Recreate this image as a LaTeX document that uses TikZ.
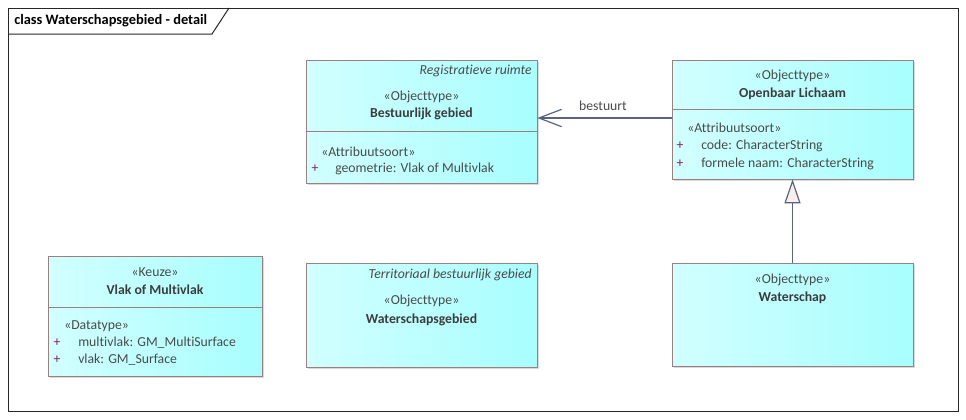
\documentclass[tikz,border=0pt]{standalone}
\usepackage{fontspec}
\setmainfont{Carlito}[Ligatures=NoCommon]
\usetikzlibrary{arrows.meta,positioning,fit,shadows}
\usepackage{xcolor}
\definecolor{clsfillL}{HTML}{D2FFFF}
\definecolor{clsfillR}{HTML}{A8FEFE}
\definecolor{clsline}{HTML}{9C8080}
\definecolor{txtdark}{HTML}{3C3C3C}
\definecolor{txtlight}{HTML}{4A4A4A}
\definecolor{conn}{HTML}{5A6482}
\definecolor{visred}{HTML}{8A2050}
\definecolor{genfill}{HTML}{F8EFEA}

\begin{document}
\begin{tikzpicture}[x=0.75pt,y=-0.75pt,>=Latex, every node/.style={font=\fontsize{10.3}{12}\selectfont,text=txtdark,inner sep=0pt}]
\tikzstyle{cls}=[draw=clsline,left color=clsfillL,right color=clsfillR,drop shadow={shadow xshift=1.8pt,shadow yshift=-1.8pt,opacity=0.3},inner sep=0pt]
\tikzstyle{stereo}=[text=txtlight]
\tikzstyle{clsname}=[font=\fontsize{10.3}{12}\selectfont\bfseries]
\tikzstyle{attr}=[anchor=west,text=txtlight]
\tikzstyle{vis}=[text=visred]
\tikzstyle{pkgtag}=[anchor=east,text=txtlight,font=\fontsize{10.3}{12}\selectfont\itshape]
\tikzstyle{divider}=[draw=clsline]
\tikzstyle{link}=[draw=conn,line width=0.9pt]
\useasboundingbox (0,0) rectangle (966,419);
% diagram frame
\draw[black!85,line width=0.75pt] (8,8) rectangle (958,411);
\draw[black!85,line width=0.75pt] (8,34) -- (212,34) -- (229,8);
\node[anchor=west,text=black,font=\fontsize{10.8}{12}\selectfont\bfseries] (title) at (14,21) {class Waterschapsgebied - detail};
% Bestuurlijk gebied
\node[cls,fit={(306,60) (537,183)}] (bg) {};
\draw[divider] (bg.west |- 0,131) -- (bg.east |- 0,131);
\node[pkgtag] (bgtag) at (532,71) {Registratieve ruimte};
\node[stereo] (bgst) at (421.5,97) {«Objecttype»};
\node[clsname] (bgname) at (421.5,114) {Bestuurlijk gebied};
\node[attr] (bgas) at (321,152) {«Attribuutsoort»};
\node[vis] (bgv1) at (315,169) {+};
\node[attr] (bga1) at (335,169) {geometrie: Vlak of Multivlak};
% Openbaar Lichaam
\node[cls,fit={(672,60) (913,179)}] (ol) {};
\draw[divider] (ol.west |- 0,109) -- (ol.east |- 0,109);
\node[stereo] (olst) at (792.5,76) {«Objecttype»};
\node[clsname] (olname) at (792.5,94) {Openbaar Lichaam};
\node[attr] (olas) at (687,128) {«Attribuutsoort»};
\node[vis] (olv1) at (680,146) {+};
\node[attr] (ola1) at (701,146) {code: CharacterString};
\node[vis] (olv2) at (680,164) {+};
\node[attr] (ola2) at (701,164) {formele naam: CharacterString};
% Vlak of Multivlak
\node[cls,fit={(48,256) (262,376)}] (vm) {};
\draw[divider] (vm.west |- 0,307) -- (vm.east |- 0,307);
\node[stereo] (vmst) at (155,272) {«Keuze»};
\node[clsname] (vmname) at (155,290) {Vlak of Multivlak};
\node[attr] (vmdt) at (64,326) {«Datatype»};
\node[vis] (vmv1) at (57,343) {+};
\node[attr] (vma1) at (78,343) {multivlak: GM\_MultiSurface};
\node[vis] (vmv2) at (57,360) {+};
\node[attr] (vma2) at (78,360) {vlak: GM\_Surface};
% Waterschapsgebied
\node[cls,fit={(306,263) (537,367)}] (wsg) {};
\node[pkgtag] (wsgtag) at (532,275) {Territoriaal bestuurlijk gebied};
\node[stereo] (wsgst) at (421.5,301) {«Objecttype»};
\node[clsname] (wsgname) at (421.5,320) {Waterschapsgebied};
% Waterschap
\node[cls,fit={(672,263) (913,366)}] (ws) {};
\node[stereo] (wsst) at (792.5,280) {«Objecttype»};
\node[clsname] (wsname) at (792.5,298) {Waterschap};
% relations
\draw[link,-{Straight Barb[length=17pt,width=13pt,line width=0.9pt]}] (ol.west |- 0,118) -- (bg.east |- 0,118);
\node[text=txtlight] (bestuurt) at (603,106) {bestuurt};
\draw[link,-{Triangle[open,fill=genfill,length=18pt,width=12pt]}] (ws.north) -- (ol.south);
\end{tikzpicture}
\end{document}
